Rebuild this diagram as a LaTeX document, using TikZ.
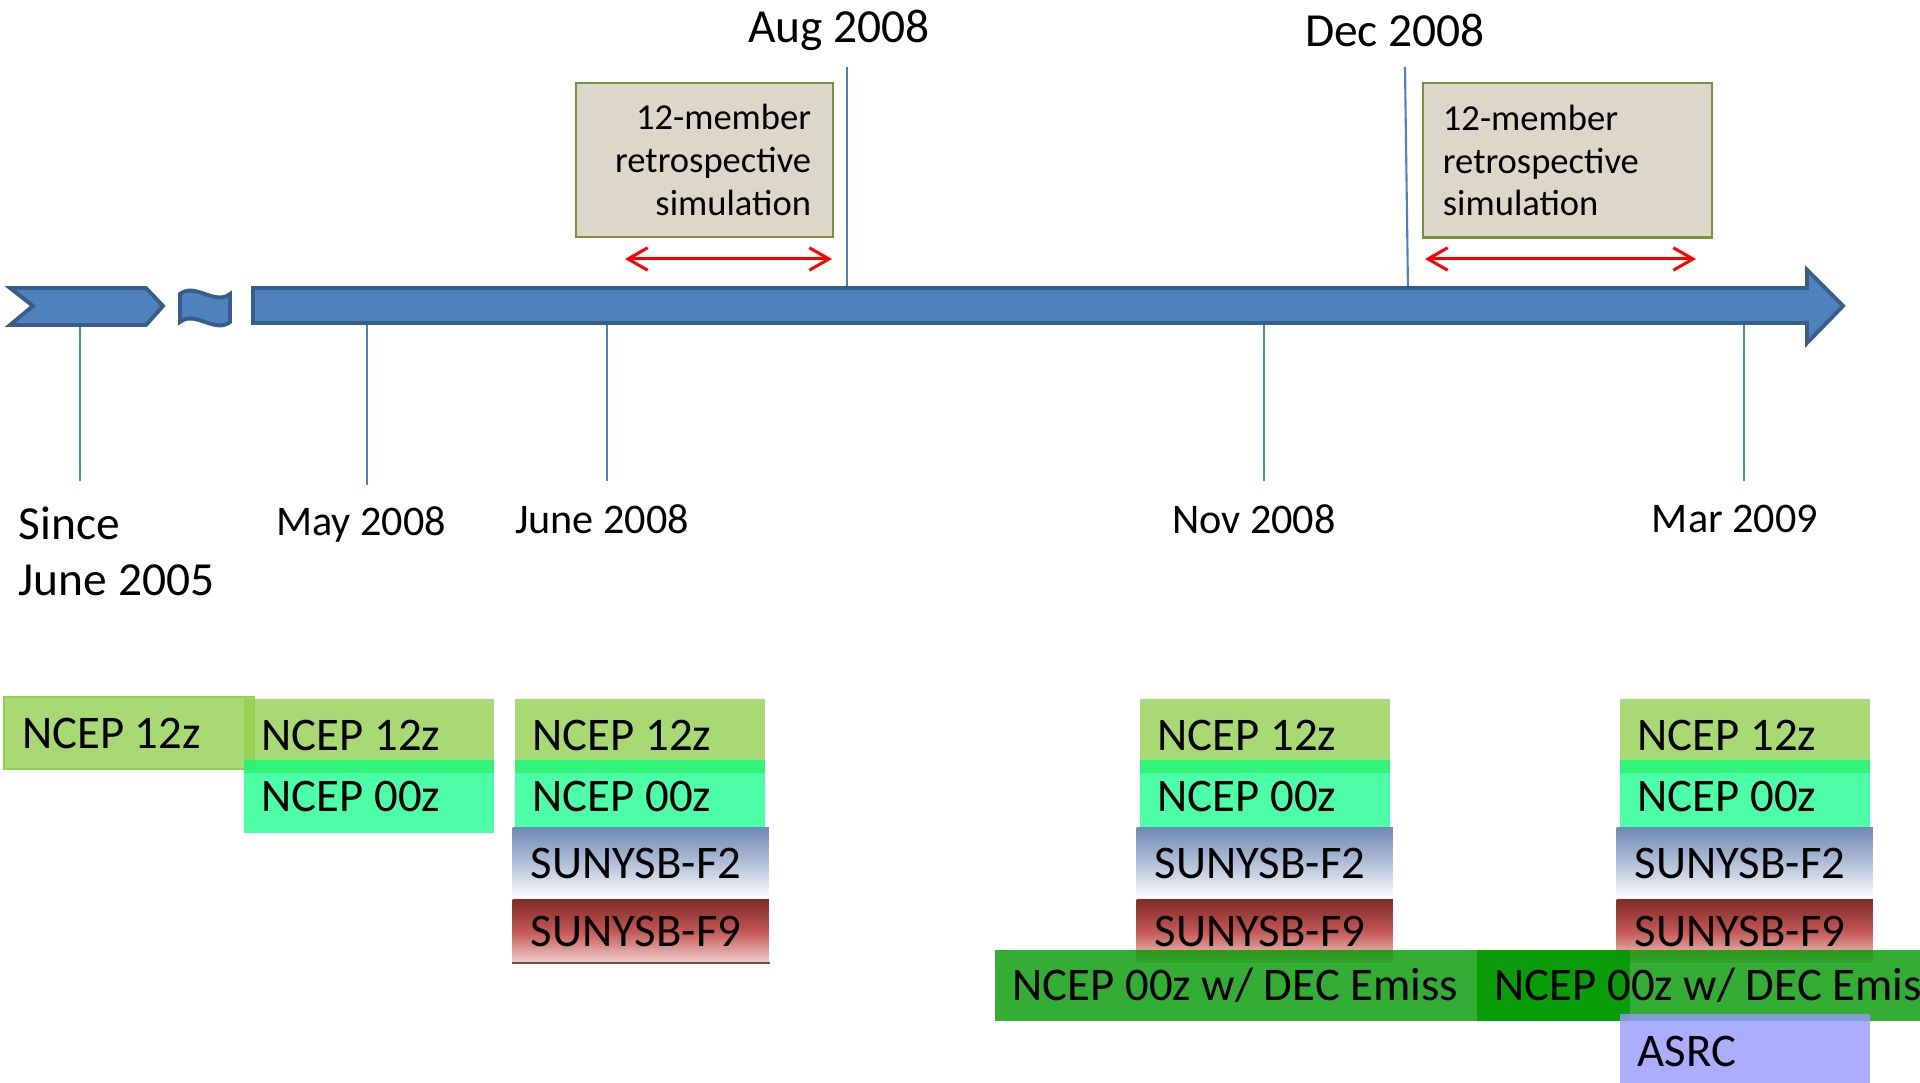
\documentclass[tikz,border=0pt]{standalone}
\usepackage{fontspec}
\setmainfont{Carlito}
\usetikzlibrary{arrows.meta}

\definecolor{axisblue}{RGB}{79,129,189}
\definecolor{axisedge}{RGB}{56,93,138}
\definecolor{simfill}{RGB}{221,215,202}
\definecolor{simedge}{RGB}{119,147,60}
\definecolor{ncepgreen}{RGB}{146,208,80}
\definecolor{ncepmint}{RGB}{0,255,128}
\definecolor{emissgreen}{RGB}{0,153,0}
\definecolor{asrcblue}{RGB}{153,153,255}
\definecolor{ftwotop}{RGB}{112,138,182}
\definecolor{ftwomid}{RGB}{178,192,216}
\definecolor{fninetop}{RGB}{128,42,40}
\definecolor{fninemid}{RGB}{196,88,85}
\definecolor{fninebot}{RGB}{240,208,206}
\definecolor{fnineedge}{RGB}{110,80,75}

\begin{document}
\begin{tikzpicture}[x=0.01cm, y=-0.01cm,
		timeline/.style = {draw=axisedge, fill=axisblue, line width=1.1pt, line join=miter},
		tickline/.style = {draw=axisblue, line width=0.6pt},
		date/.style = {inner sep=0pt, font=\fontsize{12}{14}\selectfont},
		bigdate/.style = {inner sep=0pt, font=\fontsize{13.5}{16}\selectfont},
		simbox/.style = {draw=simedge, fill=simfill, line width=0.6pt, minimum height=1.54cm, font=\fontsize{10.4}{12.2}\selectfont},
		window/.style = {draw=red, line width=0.85pt, {Straight Barb[length=5.6pt,width=6.4pt]}-{Straight Barb[length=5.6pt,width=6.4pt]}},
		cell/.style = {anchor=north west, inner xsep=0.18cm, inner ysep=0pt, text width=2.14cm, align=flush left, text opacity=1, font=\fontsize{13.3}{16}\selectfont},
		n12/.style = {cell, fill=ncepgreen, fill opacity=0.8, minimum height=0.74cm},
		n00/.style = {cell, fill=ncepmint, fill opacity=0.7, minimum height=0.73cm},
		f2/.style = {cell, text width=2.2cm, top color=ftwotop, bottom color=white, middle color=ftwomid, minimum height=0.71cm},
		f9/.style = {cell, text width=2.2cm, top color=fninetop, bottom color=fninebot, middle color=fninemid, minimum height=0.63cm},
		emiss/.style = {cell, text width=5.99cm, fill=emissgreen, fill opacity=0.8, minimum height=0.71cm},
		asrc/.style = {cell, fill=asrcblue, fill opacity=0.8, minimum height=0.75cm}]
		\useasboundingbox (0,0) rectangle (1920,1083);
		\clip (0,0) rectangle (1920,1083);
		%% TICKS
		% Above the axis
		\coordinate (aug-top) at (847,67);
		\coordinate (aug-bot) at (847,290);
		\coordinate (dec-top) at (1405,67);
		\coordinate (dec-bot) at (1408,290);
		\draw[tickline] (aug-top) -- (aug-bot);
		\draw[tickline] (dec-top) -- (dec-bot);
		% Below the axis
		\coordinate (since-top) at (80,310);
		\coordinate (since-bot) at (80,481);
		\coordinate (may-top) at (367,310);
		\coordinate (may-bot) at (367,485);
		\coordinate (june-top) at (607,310);
		\coordinate (june-bot) at (607,481);
		\coordinate (nov-top) at (1264,310);
		\coordinate (nov-bot) at (1264,481);
		\coordinate (mar-top) at (1744,310);
		\coordinate (mar-bot) at (1744,481);
		\draw[tickline] (since-top) -- (since-bot);
		\draw[tickline] (may-top) -- (may-bot);
		\draw[tickline] (june-top) -- (june-bot);
		\draw[tickline] (nov-top) -- (nov-bot);
		\draw[tickline] (mar-top) -- (mar-bot);
		%% AXIS
		% Tail
		\draw[timeline] (10,288) -- (146,288) -- (163,306) -- (146,325) -- (10,325) -- (33,306) -- cycle;
		% Break
		\draw[timeline] (180,294) .. controls (195,282) and (215,306) .. (230,294) -- (230,322) .. controls (215,334) and (195,310) .. (180,322) -- cycle;
		% Main arrow
		\draw[timeline] (253,288) -- (1807,288) -- (1807,270) -- (1843,306) -- (1807,343) -- (1807,323) -- (253,323) -- cycle;
		%% DATES
		\node[bigdate] (aug) at (839,30) {Aug 2008};
		\node[bigdate] (dec) at (1395,30) {Dec 2008};
		\node[bigdate, align=left, anchor=west] (since) at (18,551) {Since\\June 2005};
		\node[date] (may) at (361,524) {May 2008};
		\node[date] (june) at (602,519) {June 2008};
		\node[date] (nov) at (1254,519) {Nov 2008};
		\node[date] (mar) at (1735,519) {Mar 2009};
		%% RETROSPECTIVE RUNS
		\node[simbox, text width=2.13cm, align=flush right, inner xsep=0.22cm] (simA) at (704.5,160) {12-member\\retrospective\\simulation};
		\node[simbox, text width=2.49cm, align=flush left, inner xsep=0.2cm] (simB) at (1567.5,160.5) {12-member\\retrospective\\simulation};
		\coordinate (simA-from) at (625,259);
		\coordinate (simA-to) at (832,259);
		\coordinate (simB-from) at (1425,259);
		\coordinate (simB-to) at (1696,259);
		\draw[window] (simA-from) -- (simA-to);
		\draw[window] (simB-from) -- (simB-to);
		%% FORECASTS
		% Since June 2005
		\node[n12, draw=ncepgreen, line width=0.6pt, minimum height=0.72cm] (a12) at (3,696) {NCEP 12z};
		% May 2008
		\node[n12] (b12) at (243,698) {NCEP 12z};
		\node[n00] (b00) at (243,759) {NCEP 00z};
		% June 2008
		\node[n12] (c12) at (514,698) {NCEP 12z};
		\node[n00] (c00) at (514,759) {NCEP 00z};
		\node[f2] (cf2) at (512,827) {SUNYSB-F2};
		\node[f9] (cf9) at (512,899) {SUNYSB-F9};
		\draw[fnineedge, line width=0.6pt] (cf9.south west) -- (cf9.south east);
		% Nov 2008
		\node[n12] (d12) at (1139,698) {NCEP 12z};
		\node[n00] (d00) at (1139,759) {NCEP 00z};
		\node[f2] (df2) at (1136,827) {SUNYSB-F2};
		\node[f9] (df9) at (1136,899) {SUNYSB-F9};
		% Mar 2009
		\node[n12] (e12) at (1619,698) {NCEP 12z};
		\node[n00] (e00) at (1619,759) {NCEP 00z};
		\node[f2] (ef2) at (1616,827) {SUNYSB-F2};
		\node[f9] (ef9) at (1616,899) {SUNYSB-F9};
		% Emission runs
		\node[emiss] (dec1) at (994,949) {NCEP 00z w/ DEC Emiss};
		\node[emiss] (dec2) at (1476,949) {NCEP 00z w/ DEC Emiss};
		\node[asrc] (asrc) at (1619,1013) {ASRC};
	\end{tikzpicture}
\end{document}
